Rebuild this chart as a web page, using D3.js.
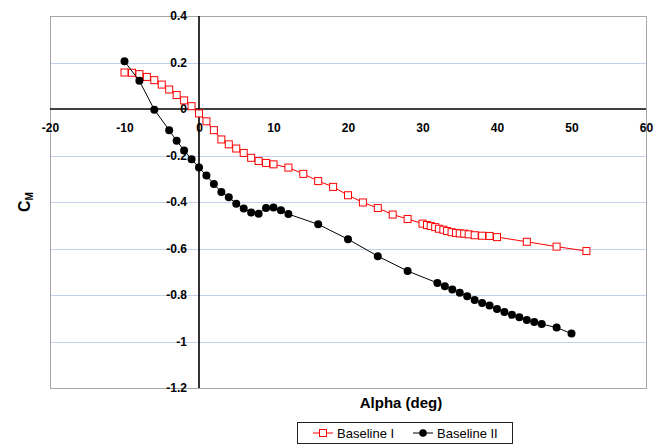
<!DOCTYPE html>
<html>
<head>
<meta charset="utf-8">
<script src="https://cdn.jsdelivr.net/npm/d3@7/dist/d3.min.js"></script>
<style>
  html, body { margin: 0; padding: 0; background: #fff; }
  svg { display: block; font-family: Arial, "Liberation Sans", sans-serif; }
</style>
</head>
<body>
<svg id="chart" width="664" height="446"></svg>
<script>
// Pitching moment coefficient vs. angle of attack for two baseline configurations
const seriesNames = ["Baseline I", "Baseline II"];

const alphaI = [-10, -9, -8, -7, -6, -5, -4, -3, -2, -1, 0, 1, 2, 3, 4, 5, 6, 7, 8, 9, 10,
  12, 14, 16, 18, 20, 22, 24, 26, 28, 30, 30.6, 31.1, 31.7, 32.2, 32.8, 33.3, 33.9, 34.5,
  35, 35.6, 36.2, 37, 38, 39, 40, 44, 48, 52];
const cmI = [0.157, 0.156, 0.150, 0.138, 0.124, 0.105, 0.084, 0.060, 0.037, 0.012, -0.019,
  -0.053, -0.091, -0.131, -0.152, -0.170, -0.189, -0.210, -0.224, -0.232, -0.238,
  -0.252, -0.279, -0.310, -0.335, -0.371, -0.402, -0.426, -0.454, -0.473, -0.493,
  -0.499, -0.503, -0.508, -0.515, -0.519, -0.525, -0.530, -0.533, -0.535, -0.536,
  -0.539, -0.543, -0.545, -0.546, -0.551, -0.571, -0.592, -0.611];

const alphaII = [-10, -8, -6, -4, -3, -2, -1, 0, 1, 2, 3, 4, 5, 6, 7, 8, 9, 10, 11, 12,
  16, 20, 24, 28, 32, 33, 34, 35, 36, 37, 38, 39, 40, 41, 42, 43, 44, 45, 46, 48, 50];
const cmII = [0.205, 0.121, -0.003, -0.091, -0.137, -0.178, -0.216, -0.252, -0.286, -0.323,
  -0.357, -0.380, -0.407, -0.428, -0.445, -0.450, -0.426, -0.424, -0.435, -0.452,
  -0.496, -0.560, -0.633, -0.697, -0.748, -0.762, -0.776, -0.790, -0.805, -0.822,
  -0.834, -0.845, -0.860, -0.873, -0.885, -0.896, -0.908, -0.916, -0.925, -0.940, -0.966];

const xTicks = [-20, -10, 0, 10, 20, 30, 40, 50, 60];
const xTickLabels = ["-20", "-10", "0", "10", "20", "30", "40", "50", "60"];
const yTicks = [0.4, 0.2, 0, -0.2, -0.4, -0.6, -0.8, -1, -1.2];
const yTickLabels = ["0.4", "0.2", "0", "-0.2", "-0.4", "-0.6", "-0.8", "-1", "-1.2"];

const xLabel = "Alpha (deg)";

const svg = d3.select("#chart");
const plot = { left: 50, right: 646, top: 16, bottom: 388 };

const x = d3.scaleLinear().domain([-20, 60]).range([plot.left, plot.right]);
const y = d3.scaleLinear().domain([-1.2, 0.4]).range([plot.bottom, plot.top]);

// horizontal gridlines
svg.append("g")
  .selectAll("line")
  .data(yTicks.filter(v => v !== 0))
  .join("line")
  .attr("x1", plot.left).attr("x2", plot.right)
  .attr("y1", d => Math.round(y(d)) + 0.5).attr("y2", d => Math.round(y(d)) + 0.5)
  .attr("stroke", "#c4d1ee").attr("stroke-width", 1);

// plot area frame
svg.append("rect")
  .attr("x", plot.left + 0.5).attr("y", plot.top + 0.5)
  .attr("width", plot.right - plot.left).attr("height", plot.bottom - plot.top)
  .attr("fill", "none").attr("stroke", "#a6a6a6").attr("stroke-width", 1);

// axes crossing at the origin
svg.append("line")
  .attr("x1", plot.left).attr("x2", plot.right)
  .attr("y1", y(0)).attr("y2", y(0))
  .attr("stroke", "#000").attr("stroke-width", 1.6);
svg.append("line")
  .attr("x1", x(0)).attr("x2", x(0))
  .attr("y1", plot.top).attr("y2", plot.bottom)
  .attr("stroke", "#000").attr("stroke-width", 1.6);

const xAxis = d3.axisBottom(x)
  .tickValues(xTicks)
  .tickFormat((d, i) => xTickLabels[i])
  .tickSize(0).tickPadding(14);
const gx = svg.append("g").attr("transform", `translate(0,${y(0)})`).call(xAxis);
gx.select(".domain").remove();
gx.selectAll("text").attr("font-size", 12).attr("font-weight", "bold")
  .attr("fill", "#000").attr("font-family", "Arial, 'Liberation Sans', sans-serif");

const yAxis = d3.axisLeft(y)
  .tickValues(yTicks)
  .tickFormat((d, i) => yTickLabels[i])
  .tickSize(0).tickPadding(12);
const gy = svg.append("g").attr("transform", `translate(${x(0)},0)`).call(yAxis);
gy.select(".domain").remove();
gy.selectAll("text").attr("font-size", 12).attr("font-weight", "bold")
  .attr("fill", "#000").attr("font-family", "Arial, 'Liberation Sans', sans-serif");

// series
const dataI = alphaI.map((a, i) => [a, cmI[i]]);
const dataII = alphaII.map((a, i) => [a, cmII[i]]);
const line = d3.line().x(d => x(d[0])).y(d => y(d[1]));

svg.append("path").datum(dataI)
  .attr("d", line).attr("fill", "none").attr("stroke", "#ff0000").attr("stroke-width", 1);
svg.append("g").selectAll("rect").data(dataI).join("rect")
  .attr("x", d => x(d[0]) - 3.5).attr("y", d => y(d[1]) - 3.5)
  .attr("width", 7).attr("height", 7)
  .attr("fill", "#fff").attr("stroke", "#ff0000").attr("stroke-width", 1);

svg.append("path").datum(dataII)
  .attr("d", line).attr("fill", "none").attr("stroke", "#000").attr("stroke-width", 1);
svg.append("g").selectAll("circle").data(dataII).join("circle")
  .attr("cx", d => x(d[0])).attr("cy", d => y(d[1])).attr("r", 4)
  .attr("fill", "#000");

// axis titles
svg.append("text")
  .attr("x", 401).attr("y", 408)
  .attr("text-anchor", "middle")
  .attr("font-size", 15).attr("font-weight", "bold")
  .text(xLabel);

const yt = svg.append("text")
  .attr("transform", "translate(30,202) rotate(-90)")
  .attr("text-anchor", "middle")
  .attr("font-size", 16).attr("font-weight", "bold");
yt.append("tspan").text("C");
yt.append("tspan").attr("font-size", 10).attr("dy", 3).text("M");

// legend
const lg = svg.append("g");
lg.append("rect")
  .attr("x", 297.5).attr("y", 422.5).attr("width", 215).attr("height", 21)
  .attr("fill", "#fff").attr("stroke", "#222").attr("stroke-width", 1);

const legendItems = [
  { name: seriesNames[0], x0: 313, color: "#ff0000", marker: "square" },
  { name: seriesNames[1], x0: 413, color: "#000", marker: "circle" }
];
legendItems.forEach(it => {
  const cy = 433;
  lg.append("line")
    .attr("x1", it.x0).attr("x2", it.x0 + 20).attr("y1", cy).attr("y2", cy)
    .attr("stroke", it.color).attr("stroke-width", 1);
  if (it.marker === "square") {
    lg.append("rect").attr("x", it.x0 + 10 - 3.5).attr("y", cy - 3.5)
      .attr("width", 7).attr("height", 7)
      .attr("fill", "#fff").attr("stroke", it.color);
  } else {
    lg.append("circle").attr("cx", it.x0 + 10).attr("cy", cy).attr("r", 3.8).attr("fill", it.color);
  }
  lg.append("text").attr("x", it.x0 + 24).attr("y", cy + 4.6)
    .attr("font-size", 13).attr("fill", "#000").text(it.name);
});
</script>
</body>
</html>
